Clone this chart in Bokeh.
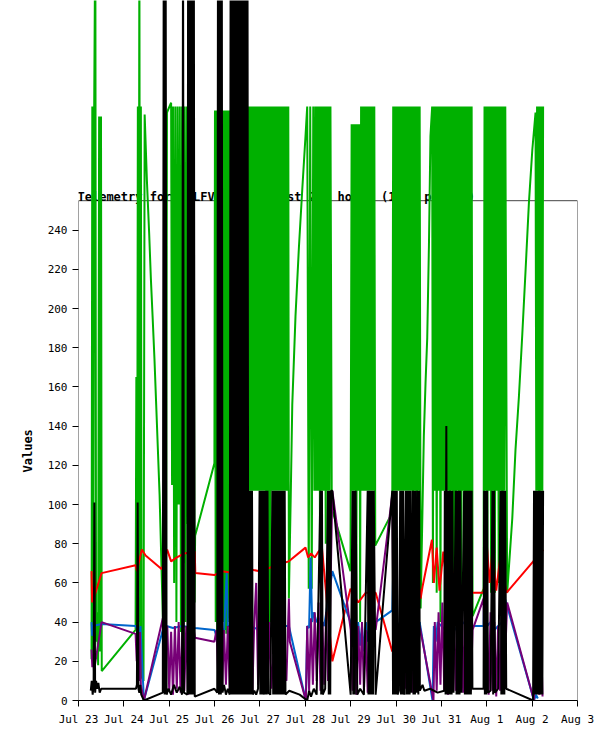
import math
from bokeh.plotting import figure
from bokeh.models import FixedTicker, BoxAnnotation, Label, Title
from bokeh.embed import file_html
from bokeh.resources import INLINE

TITLE = "Telemetry for N0LFV-11 for last 240 hours (1440 points)"
Y_LABEL = "Values"
# hours since Jul 23 00:00
DAY_TICKS = [0, 24, 48, 72, 96, 120, 144, 168, 192, 216, 240, 264]
DAY_LABELS = ["Jul 23", "Jul 24", "Jul 25", "Jul 26", "Jul 27", "Jul 28",
              "Jul 29", "Jul 30", "Jul 31", "Aug 1", "Aug 2", "Aug 3"]
Y_TICKS = [0, 20, 40, 60, 80, 100, 120, 140, 160, 180, 200, 220, 240]

GREEN = [
    (6.9, 21), (7.3, 303), (7.8, 24), (8.3, 303), (8.9, 400), (9.3, 30), (9.8, 45), (10.4, 18), (10.9, 298), (11.4, 25), (11.9, 298), (12.3, 15),
    (30.2, 36), (30.6, 165), (31.0, 30), (31.4, 303), (31.8, 40), (32.2, 400), (32.6, 35), (33.0, 303), (33.4, 12),
    (34.4, 10), (35.0, 299), (36.2, 265), (37.4, 238), (38.3, 215), (39.2, 196), (40.2, 174), (41.1, 151), (42.0, 128), (42.9, 105), (44.1, 61),
    (45.0, 30), (46.3, 35), (46.8, 300), (49.0, 305), (49.5, 110), (50.0, 303), (50.6, 60), (51.2, 303), (51.8, 40), (52.4, 303), (53.0, 100), (53.6, 303),
    (54.2, 35), (54.8, 303), (55.4, 70), (56.0, 303), (56.6, 40), (57.2, 303), (57.8, 90), (58.4, 303), (59.0, 45), (59.6, 303), (60.2, 120), (60.8, 303), (61.4, 50), (61.7, 84),
    (71.9, 121), (72.2, 301), (72.6, 40), (73.0, 301), (73.4, 35), (73.8, 301), (74.2, 40), (74.6, 301), (75.0, 38), (75.4, 301), (75.8, 45), (76.2, 301),
    (76.6, 40), (77.0, 301), (77.4, 36), (77.8, 301), (78.2, 34), (78.6, 301), (79.0, 40), (79.4, 301), (79.8, 42), (80.2, 301),
    (81.0, 107), (82.0, 303), (84.0, 107), (86.0, 303), (88.0, 107), (89.0, 303),
    (89.5, 107), (90.0, 303), (90.5, 107), (91.0, 303), (91.5, 107), (92.0, 303), (92.5, 107), (93.0, 303), (93.5, 107), (94.0, 303), (94.5, 107), (95.0, 303),
    (95.5, 107), (96.0, 303), (96.5, 107), (97.0, 303), (97.5, 107), (98.0, 303), (98.5, 107), (99.0, 303), (99.5, 38), (100.0, 303), (100.5, 40), (101.0, 303),
    (101.5, 40), (102.0, 303), (102.5, 107), (103.0, 303), (103.5, 107), (104.0, 303), (104.5, 107), (105.0, 303), (105.5, 107), (106.0, 303), (106.5, 107),
    (107.0, 303), (107.5, 107), (108.0, 303), (108.5, 107), (109.0, 303), (109.5, 107), (110.0, 303), (110.5, 107), (111.0, 303), (111.3, 52),
    (112.3, 105), (113.1, 151), (114.8, 196), (116.6, 231), (118.4, 261), (120.1, 288), (121.0, 303),
    (121.8, 57), (122.6, 303), (123.4, 57), (124.2, 303), (124.8, 107), (125.3, 303), (125.8, 107), (126.3, 303), (126.8, 107), (127.3, 303), (127.8, 60),
    (128.3, 303), (128.8, 107), (129.3, 303), (129.8, 107), (130.3, 303), (130.8, 80), (131.3, 303), (131.8, 107), (132.3, 303), (132.8, 107), (133.3, 303), (134.0, 98),
    (143.9, 66), (144.5, 294), (145.0, 107), (145.5, 294), (146.0, 107), (146.5, 294), (147.0, 40), (147.5, 294), (148.0, 107), (148.5, 294), (149.0, 40),
    (149.5, 303), (150.0, 107), (150.5, 303), (151.0, 107), (151.5, 303), (152.0, 107), (152.5, 303), (153.0, 107), (153.5, 303), (154.0, 107), (154.5, 303),
    (155.0, 107), (155.5, 303), (156.0, 107), (156.5, 303), (157.0, 79),
    (166.0, 96), (166.5, 303), (167.0, 107), (167.5, 303), (168.0, 107), (168.5, 303), (169.0, 107), (169.5, 303), (170.0, 107), (170.5, 303), (171.0, 107),
    (171.5, 303), (172.0, 107), (172.5, 303), (173.0, 107), (173.5, 303), (174.0, 107), (174.5, 303), (175.0, 107), (175.5, 303), (176.0, 107), (176.5, 303),
    (177.0, 60), (177.5, 303), (178.0, 107), (178.5, 303), (179.0, 40), (179.5, 303), (180.0, 107), (180.5, 303), (181.0, 47),
    (181.9, 93), (182.7, 135), (183.6, 162), (184.5, 185), (185.4, 232), (186.2, 288), (187.1, 303),
    (187.5, 60), (188.0, 303), (188.5, 107), (189.0, 303), (189.5, 55), (190.0, 303), (190.5, 107), (191.0, 303), (191.5, 40), (192.0, 303), (192.5, 107),
    (193.0, 303), (193.5, 107), (194.0, 303), (194.5, 107), (195.0, 303), (195.5, 107), (196.0, 303), (196.5, 60), (197.0, 303), (197.5, 107), (198.0, 303),
    (198.5, 38), (199.0, 303), (199.5, 40), (200.0, 303), (200.5, 107), (201.0, 303), (201.5, 38), (202.0, 303), (202.5, 40), (203.0, 303), (203.5, 107),
    (204.0, 303), (204.5, 38), (205.0, 303), (205.5, 40), (206.0, 303), (206.5, 38), (207.0, 303), (207.5, 40), (208.0, 303), (208.5, 43),
    (214.3, 57), (214.8, 303), (215.3, 107), (215.8, 303), (216.3, 60), (216.8, 303), (217.3, 107), (217.8, 303), (218.3, 55), (218.8, 303), (219.3, 107),
    (219.8, 303), (220.3, 55), (220.8, 303), (221.3, 107), (221.8, 303), (222.3, 60), (222.8, 303), (223.3, 107), (223.8, 303), (224.3, 55), (224.8, 303),
    (225.3, 107), (225.8, 303), (226.8, 55),
    (229.5, 93), (231.2, 128), (233.0, 155), (234.8, 187), (236.5, 219), (238.3, 254), (240.1, 281), (241.8, 300),
    (242.2, 107), (242.6, 303), (243.0, 107), (243.4, 303), (243.8, 60), (244.2, 303), (244.6, 107), (245.0, 303), (245.4, 107), (245.8, 303),
]

RED = [
    (6.9, 66), (7.2, 50), (7.6, 58), (8.0, 52), (12.2, 65), (30.2, 69), (31.0, 66), (31.8, 70), (33.5, 77), (35.5, 74), (44.1, 67), (46.9, 77),
    (49.0, 71), (52.0, 73), (56.0, 75), (61.5, 76), (61.8, 65), (71.9, 64), (76.0, 66), (82.0, 65), (90.0, 67), (96.0, 66), (102.0, 68), (108.0, 70),
    (111.3, 71), (120.1, 78), (121.5, 73), (123.0, 75), (125.0, 73), (127.0, 76), (128.8, 78), (134.3, 20), (143.9, 57), (148.0, 50), (152.0, 55),
    (157.2, 55), (166.0, 25), (180.5, 57), (181.0, 52), (182.0, 58), (187.0, 82), (188.0, 60), (189.5, 78), (191.0, 56), (193.0, 76), (195.0, 58),
    (197.0, 70), (200.0, 55), (205.0, 57), (208.5, 55), (214.3, 55), (216.0, 80), (217.5, 60), (219.0, 77), (221.0, 56), (223.0, 72), (226.5, 55), (245.9, 77),
]

BLUE = [
    (6.9, 40), (7.2, 33), (7.6, 38), (12.2, 39), (30.2, 38), (31.2, 36), (32.0, 30), (32.8, 38), (33.4, 25), (34.6, 0), (44.6, 36), (46.5, 38), (50.0, 37),
    (55.0, 38), (61.6, 37), (71.9, 36), (73.0, 33), (75.0, 38), (77.0, 35), (78.4, 65), (79.0, 38), (82.0, 38), (90.0, 70), (90.5, 38), (96.0, 36),
    (99.0, 38), (100.5, 36), (104.0, 38), (111.3, 38), (120.3, 0), (121.0, 38), (122.0, 37), (122.8, 73), (123.6, 40), (124.5, 45), (126.0, 40),
    (128.0, 42), (130.0, 38), (134.3, 66), (143.9, 40), (145.0, 30), (146.0, 38), (147.0, 25), (148.0, 40), (149.0, 28), (150.0, 38), (151.0, 25),
    (152.0, 40), (153.0, 30), (154.0, 38), (155.0, 28), (157.2, 40), (166.0, 46), (167.0, 87), (167.5, 40), (172.0, 38), (173.5, 85), (174.0, 40),
    (178.0, 38), (180.5, 40), (187.3, 0), (188.0, 38), (189.0, 30), (190.0, 40), (192.0, 38), (194.0, 36), (196.0, 40), (198.0, 38), (200.0, 36),
    (202.0, 38), (204.0, 40), (206.0, 37), (208.5, 38), (214.3, 38), (215.5, 96), (216.2, 38), (218.0, 40), (220.0, 36), (222.0, 38), (224.0, 40),
    (225.6, 52), (241.0, 0), (242.0, 3), (243.0, 1),
]

PURPLE = [
    (6.9, 26), (7.3, 17), (7.7, 24), (8.2, 15), (12.2, 40), (30.2, 34), (30.8, 20), (31.3, 38), (31.9, 10), (32.5, 35), (33.0, 8), (34.6, 0), (44.6, 42),
    (45.5, 30), (47.0, 38), (48.0, 5), (49.0, 35), (50.0, 3), (51.0, 38), (52.0, 6), (53.0, 40), (54.0, 4), (55.0, 36), (56.0, 5), (57.0, 38), (58.0, 3),
    (59.0, 37), (60.0, 5), (61.0, 36), (61.6, 32), (71.9, 30), (73.0, 36), (74.0, 10), (75.0, 38), (76.0, 5), (77.0, 36), (78.0, 8), (79.0, 38), (80.0, 5),
    (89.5, 40), (91.0, 70), (92.0, 5), (93.0, 40), (94.0, 60), (95.0, 8), (97.0, 35), (98.5, 4), (99.0, 38), (100.0, 5), (101.0, 40), (102.0, 6),
    (104.0, 35), (106.0, 5), (108.0, 40), (110.0, 10), (111.3, 52), (111.8, 30), (120.3, 0), (121.0, 38), (122.0, 5), (123.0, 42), (124.0, 8), (125.0, 45),
    (126.0, 10), (127.0, 50), (128.0, 5), (129.0, 40), (130.0, 8), (131.0, 45), (132.0, 10), (133.0, 40), (134.3, 107), (144.0, 36), (145.0, 5), (146.0, 40),
    (147.0, 3), (148.0, 38), (149.0, 8), (150.0, 40), (151.0, 5), (152.0, 36), (153.0, 4), (154.0, 40), (155.0, 6), (156.0, 38), (157.2, 36), (166.0, 105),
    (167.0, 5), (168.0, 40), (169.0, 8), (170.0, 38), (171.0, 4), (172.0, 42), (173.0, 6), (174.0, 40), (175.0, 5), (176.0, 38), (177.0, 4), (178.0, 42),
    (179.0, 6), (180.5, 38), (187.8, 0), (188.5, 40), (189.5, 5), (190.5, 45), (191.5, 8), (192.5, 50), (193.5, 5), (194.5, 40), (195.5, 3), (196.5, 45),
    (197.5, 8), (198.5, 50), (199.5, 5), (200.5, 40), (201.5, 8), (202.5, 45), (203.5, 4), (204.5, 50), (205.5, 6), (206.5, 42), (207.5, 5), (208.5, 36),
    (214.3, 52), (215.0, 5), (216.0, 40), (217.0, 3), (218.0, 45), (219.0, 5), (220.0, 40), (221.0, 2), (222.0, 38), (223.0, 5), (224.0, 42), (225.0, 4),
    (226.8, 50), (241.0, 0), (242.0, 70), (242.6, 5), (243.2, 60), (243.8, 3), (244.5, 40), (245.5, 2),
]

BLACK = [
    (6.5, 5), (7.0, 10), (7.5, 3), (8.0, 8), (8.4, 101), (8.8, 4), (9.3, 10), (9.8, 6), (10.5, 9), (11.2, 4), (12.0, 6),
    (30.4, 6), (30.9, 8), (31.3, 101), (31.7, 6), (32.2, 4), (32.6, 8), (33.2, 3), (34.6, 0),
    (44.6, 4), (45.1, 400), (45.6, 3), (46.1, 400), (46.6, 3), (47.6, 6), (49.0, 3), (50.5, 8), (52.0, 4), (53.5, 7), (54.8, 3), (55.3, 400), (55.8, 4),
    (57.6, 3), (58.0, 400), (58.5, 3), (59.0, 400), (59.5, 3), (60.0, 400), (60.5, 3), (61.0, 400), (61.5, 2),
    (71.9, 6), (73.4, 4), (73.8, 400), (74.3, 3), (74.8, 400), (75.3, 3), (75.8, 400), (76.2, 4), (77.0, 8), (78.0, 3), (79.0, 6), (80.0, 3),
    (80.5, 400), (81.0, 3), (81.5, 400), (82.0, 3), (82.5, 400), (83.0, 3), (83.5, 400), (84.0, 3), (84.5, 400), (85.0, 3), (85.5, 400), (86.0, 3),
    (86.5, 400), (87.0, 3), (87.5, 400), (88.0, 3), (88.5, 400), (89.0, 3), (89.4, 400),
    (89.8, 3), (90.2, 107), (90.6, 3), (91.0, 107), (91.4, 3), (91.8, 107), (92.2, 3), (93.0, 5), (94.0, 3), (95.0, 6), (95.8, 107), (96.2, 3), (96.6, 107),
    (97.0, 3), (97.4, 107), (97.8, 3), (98.4, 107), (98.8, 3), (99.2, 107), (99.6, 3), (100.0, 107), (100.4, 4), (101.5, 3), (102.6, 107), (103.0, 3),
    (103.4, 107), (103.8, 3), (104.2, 107), (104.6, 3), (105.0, 107), (105.4, 3), (105.8, 107), (106.3, 3), (106.7, 107), (107.1, 3), (107.5, 107),
    (107.9, 3), (108.3, 107), (108.7, 3), (109.1, 107), (109.5, 3),
    (111.5, 5), (117.0, 3), (121.0, 0), (122.0, 5), (123.0, 2), (124.5, 6), (126.0, 3), (128.0, 107), (128.4, 3), (128.8, 107), (129.2, 3), (130.5, 6),
    (132.0, 107), (132.4, 3), (132.8, 107), (133.2, 3), (133.6, 107), (134.3, 107), (144.0, 3),
    (145.0, 107), (145.4, 3), (145.8, 107), (146.2, 3), (146.6, 107), (147.5, 3), (149.0, 6), (151.0, 3), (153.0, 107), (153.4, 3), (153.8, 107),
    (154.2, 3), (154.6, 107), (155.0, 3), (155.4, 107), (155.8, 3), (156.2, 107), (157.2, 3), (166.0, 107),
    (166.4, 3), (166.8, 107), (167.2, 3), (167.6, 107), (168.0, 3), (168.4, 107), (168.8, 3), (169.5, 5), (170.2, 107), (170.6, 3), (171.0, 107),
    (171.4, 3), (171.8, 107), (172.4, 3), (173.2, 107), (173.6, 3), (174.0, 107), (174.4, 3), (174.8, 107), (175.2, 3), (175.6, 107), (176.0, 4),
    (176.8, 107), (177.2, 3), (177.6, 107), (178.0, 3), (178.3, 107), (178.8, 4), (179.4, 107), (179.8, 3), (180.2, 107), (180.6, 5),
    (182.0, 8), (183.0, 5), (186.0, 6), (190.0, 4), (193.5, 5),
    (193.8, 107), (194.2, 3), (194.6, 140), (195.0, 3), (195.4, 107), (195.8, 3), (196.2, 107), (196.6, 3), (197.0, 107), (197.4, 3), (197.8, 107),
    (198.4, 4), (199.6, 107), (200.0, 3), (200.4, 107), (200.8, 3), (201.2, 107), (201.6, 3), (202.0, 107), (202.6, 4), (204.0, 107), (204.4, 3),
    (204.8, 107), (205.2, 3), (205.6, 107), (206.0, 3), (206.4, 107), (206.8, 3), (207.2, 107), (207.6, 3), (208.0, 107), (208.4, 6), (214.3, 6),
    (214.6, 107), (215.0, 3), (215.4, 107), (215.8, 3), (216.2, 107), (216.6, 4), (218.0, 5), (219.0, 107), (219.4, 3), (219.8, 107), (220.4, 4),
    (222.0, 6), (223.3, 107), (223.7, 3), (224.1, 107), (224.5, 3), (224.9, 107), (225.3, 3), (225.7, 107), (226.3, 6), (240.5, 0),
    (241.0, 107), (241.4, 3), (241.8, 107), (242.2, 3), (242.6, 107), (243.0, 3), (243.4, 107), (243.8, 3), (244.2, 107), (244.6, 3), (245.0, 107),
    (245.4, 3), (245.8, 107),
]

X_END = 264
BOX_TOP = 255
Y_END = 700 / 1.96

MONO = "DejaVu Sans Mono"

p = figure(width=608, height=735, x_range=(0, X_END), y_range=(0, Y_END),
           output_backend="svg", toolbar_location=None, title=None,
           min_border_left=78, min_border_right=31, min_border_top=0, min_border_bottom=35)
p.outline_line_color = None
p.grid.visible = False
p.background_fill_color = "white"
p.border_fill_color = "white"

# frame box
p.add_layout(BoxAnnotation(left=0, right=X_END, bottom=0, top=BOX_TOP,
                           fill_color=None, fill_alpha=0, line_color="#444444",
                           line_alpha=1.0, line_width=1, level="underlay"))
p.add_layout(Label(x=0, y=257, text=TITLE, text_font=MONO, text_font_style="bold",
                   text_font_size="12px", text_color="black", text_baseline="alphabetic",
                   x_offset=-1, level="underlay"))
p.add_layout(Title(text=Y_LABEL, text_font=MONO, text_font_style="bold",
                   text_font_size="12px", text_color="black", align="left",
                   vertical_align="bottom", offset=228, standoff=20), "left")

xa = p.xaxis[0]
xa.ticker = FixedTicker(ticks=DAY_TICKS, minor_ticks=[])
xa.major_label_overrides = {t: l for t, l in zip(DAY_TICKS, DAY_LABELS)}
ya = p.yaxis[0]
ya.ticker = FixedTicker(ticks=Y_TICKS, minor_ticks=[])
ya.axis_line_color = None
for ax in (xa, ya):
    ax.major_tick_out = 6
    ax.major_tick_in = 0
    ax.minor_tick_out = 0
    ax.minor_tick_in = 0
    ax.major_tick_line_color = "black"
    ax.major_label_text_font = MONO
    ax.major_label_text_font_size = "11px"
    ax.major_label_text_color = "black"
    ax.major_label_standoff = 5
xa.axis_line_color = "black"
xa.major_label_standoff = 6

series = [(GREEN, "#00b000"), (RED, "#ff0000"), (BLUE, "#0066cc"),
          (PURPLE, "#770077"), (BLACK, "#000000")]
for data, col in series:
    xs = [t for t, v in data]
    ys = [v for t, v in data]
    p.line(xs, ys, line_color=col, line_width=2)

open("out.html", "w").write(file_html(p, INLINE))
